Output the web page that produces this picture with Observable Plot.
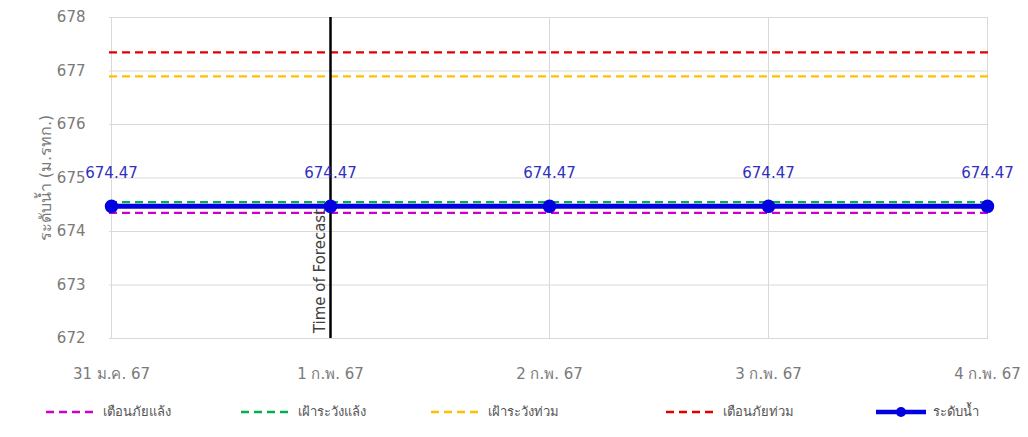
<!DOCTYPE html>
<html><head><meta charset="utf-8">
<script src="https://cdn.jsdelivr.net/npm/d3@7"></script>
<script src="https://cdn.jsdelivr.net/npm/@observablehq/plot@0.6"></script>
<style>
body{margin:0;background:#fff;font-family:Tahoma,"DejaVu Sans",sans-serif;}
#legend{position:relative;height:42px;width:1028px;font-size:13px;color:#555;}
.item{position:absolute;top:6px;display:flex;align-items:center;gap:6px;white-space:nowrap;}
svg [aria-label="y-axis label"]{font-size:16px;}
</style></head>
<body>
<div id="chart"></div>
<div id="legend"></div>
<script>
const dates = ["31 ม.ค. 67","1 ก.พ. 67","2 ก.พ. 67","3 ก.พ. 67","4 ก.พ. 67"];
const levels = [674.47,674.47,674.47,674.47,674.47];
const droughtWarning = 674.35;   // เตือนภัยแล้ง
const droughtWatch = 674.55;     // เฝ้าระวังแล้ง
const floodWatch = 676.9;        // เฝ้าระวังท่วม
const floodWarning = 677.35;     // เตือนภัยท่วม
const forecastDate = "1 ก.พ. 67";
const yTicks = [672,673,674,675,676,677,678];
const seriesNames = ["เตือนภัยแล้ง","เฝ้าระวังแล้ง","เฝ้าระวังท่วม","เตือนภัยท่วม","ระดับน้ำ"];
const seriesColors = ["#cc00cc","#00b050","#ffc000","#e00000","#0000e0"];

const data = dates.map((d,i)=>({date:d, level:levels[i], label:levels[i].toFixed(2)}));
const thresholds = [droughtWarning, droughtWatch, floodWatch, floodWarning];

const plot = Plot.plot({
  width:1028, height:395,
  marginLeft:109, marginRight:40, marginTop:17, marginBottom:57,
  style:{fontFamily:'Tahoma,"DejaVu Sans",sans-serif', fontSize:"15px", color:"#7a7a7a", background:"#fff"},
  x:{type:"point", domain:dates, padding:0, label:null, tickSize:0, tickPadding:30},
  y:{domain:[672,678], ticks:yTicks, tickFormat:"d", label:"ระดับน้ำ (ม.รทก.)", labelAnchor:"center", labelArrow:"none", labelOffset:70, tickSize:0, tickPadding:24},
  marks:[
    Plot.gridY(yTicks,{stroke:"#d9d9d9", strokeOpacity:1}),
    Plot.gridX(dates,{stroke:"#d9d9d9", strokeOpacity:1}),
    Plot.ruleY(thresholds,{y:d=>d, stroke:(d,i)=>seriesColors[i], strokeWidth:2.2, strokeDasharray:"8,5"}),
    Plot.ruleX([forecastDate],{stroke:"#000", strokeWidth:2.5}),
    Plot.text([forecastDate],{x:d=>d, y:[672.1], text:["Time of Forecast"], rotate:-90, textAnchor:"start", dx:-10, fill:"#404040", fontSize:15}),
    Plot.line(data,{x:"date", y:"level", stroke:seriesColors[4], strokeWidth:5}),
    Plot.dot(data,{x:"date", y:"level", r:6, fill:seriesColors[4], stroke:seriesColors[4]}),
    Plot.text(data,{x:"date", y:"level", text:"label", dy:-33, fill:"#3030c0", fontSize:15})
  ]
});
document.getElementById("chart").append(plot);

const lx = [45,240,430,665,875];
const legend = document.getElementById("legend");
seriesNames.forEach((n,i)=>{
  const it = document.createElement("div");
  it.className="item"; it.style.left=lx[i]+"px";
  const sw = i<4
    ? `<svg width="52" height="12"><line x1="1" y1="6" x2="51" y2="6" stroke="${seriesColors[i]}" stroke-width="2.5" stroke-dasharray="8,5"/></svg>`
    : `<svg width="52" height="12"><line x1="1" y1="6" x2="51" y2="6" stroke="${seriesColors[i]}" stroke-width="4.5"/><circle cx="26" cy="6" r="5" fill="${seriesColors[i]}"/></svg>`;
  it.innerHTML = sw + `<span>${n}</span>`;
  legend.append(it);
});
</script>
</body></html>
